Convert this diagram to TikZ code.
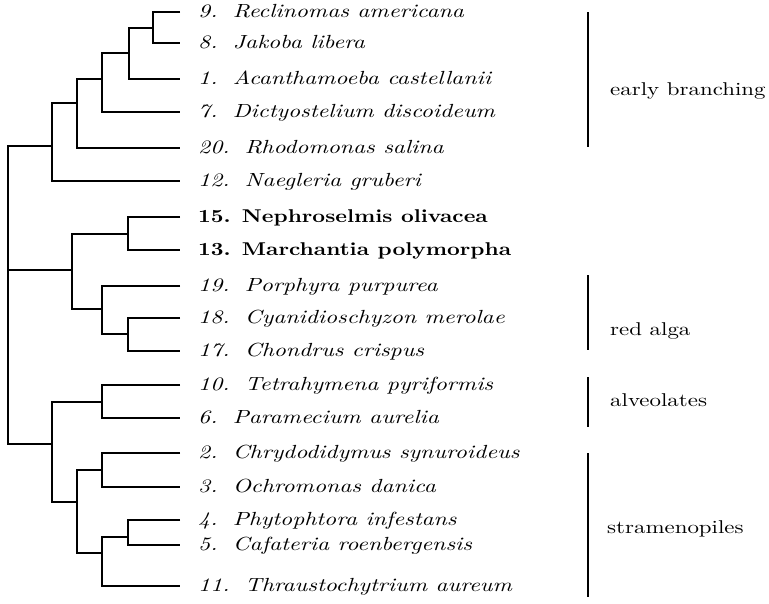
\documentclass[tikz,border=0pt]{standalone}
\usepackage{graphicx}
\tikzset{
  branch/.style={line width=1.7pt},
  groupbar/.style={line width=2pt},
  leaflab/.style={anchor=base west, inner sep=0pt, font=\fontsize{10}{12}\selectfont},
  grouplab/.style={anchor=base west, inner sep=0pt, font=\fontsize{10}{12}\selectfont},
}
\newcommand{\itlab}[2]{\scalebox{2.36}[1.9]{\itshape #1\hspace{0.65em}#2}}
\newcommand{\bflab}[2]{\scalebox{2.22}[1.85]{\bfseries #1\hspace{0.5em}#2}}
\newcommand{\grlab}[1]{\scalebox{2.29}[1.85]{#1}}
\begin{document}
\begin{tikzpicture}[x=1pt,y=-1pt]
\useasboundingbox (0,0) rectangle (769,603);
% leaf tips
\coordinate (t9)  at (180,12);
\coordinate (t8)  at (180,43);
\coordinate (t1)  at (180,79);
\coordinate (t7)  at (180,112);
\coordinate (t20) at (180,148);
\coordinate (t12) at (180,181);
\coordinate (t15) at (180,217);
\coordinate (t13) at (180,250);
\coordinate (t19) at (180,286);
\coordinate (t18) at (180,318);
\coordinate (t17) at (180,351);
\coordinate (t10) at (180,385);
\coordinate (t6)  at (180,418);
\coordinate (t2)  at (180,453);
\coordinate (t3)  at (180,487);
\coordinate (t4)  at (180,520);
\coordinate (t5)  at (180,545);
\coordinate (t11) at (180,586);
% internal nodes
\coordinate (n98)    at (153,28);
\coordinate (n981)   at (129,53);
\coordinate (n9817)  at (102,79);
\coordinate (n20)    at (77,103);
\coordinate (n12)    at (52,146);
\coordinate (n1513)  at (128,234);
\coordinate (n1817)  at (128,334);
\coordinate (nred)   at (102,309);
\coordinate (nplant) at (72,270);
\coordinate (nalv)   at (102,402);
\coordinate (n23)    at (102,470);
\coordinate (n45)    at (128,537);
\coordinate (n4511)  at (102,553);
\coordinate (nstram) at (77,502);
\coordinate (nchrom) at (52,444);
\coordinate (root)   at (8,270);
% branches
\draw[branch] (t9) -| (n98) |- (t8);
\draw[branch] (n98) -| (n981) |- (t1);
\draw[branch] (n981) -| (n9817) |- (t7);
\draw[branch] (n9817) -| (n20) |- (t20);
\draw[branch] (n20) -| (n12) |- (t12);
\draw[branch] (t15) -| (n1513) |- (t13);
\draw[branch] (t18) -| (n1817) |- (t17);
\draw[branch] (t19) -| (nred) |- (n1817);
\draw[branch] (n1513) -| (nplant) |- (nred);
\draw[branch] (t10) -| (nalv) |- (t6);
\draw[branch] (t2) -| (n23) |- (t3);
\draw[branch] (t4) -| (n45) |- (t5);
\draw[branch] (n45) -| (n4511) |- (t11);
\draw[branch] (n23) -| (nstram) |- (n4511);
\draw[branch] (nalv) -| (nchrom) |- (nstram);
\draw[branch] (n12) -| (root) |- (nchrom);
\draw[branch] (root) -- (nplant);
% leaf labels
\node[leaflab] (l9)  at (198,17)  {\itlab{9.}{Reclinomas americana}};
\node[leaflab] (l8)  at (198,48)  {\itlab{8.}{Jakoba libera}};
\node[leaflab] (l1)  at (198,84)  {\itlab{1.}{Acanthamoeba castellanii}};
\node[leaflab] (l7)  at (198,117) {\itlab{7.}{Dictyostelium discoideum}};
\node[leaflab] (l20) at (198,153) {\itlab{20.}{Rhodomonas salina}};
\node[leaflab] (l12) at (198,186) {\itlab{12.}{Naegleria gruberi}};
\node[leaflab] (l15) at (198,222) {\bflab{15.}{Nephroselmis olivacea}};
\node[leaflab] (l13) at (198,255) {\bflab{13.}{Marchantia polymorpha}};
\node[leaflab] (l19) at (198,291) {\itlab{19.}{Porphyra purpurea}};
\node[leaflab] (l18) at (198,323) {\itlab{18.}{Cyanidioschyzon merolae}};
\node[leaflab] (l17) at (198,356) {\itlab{17.}{Chondrus crispus}};
\node[leaflab] (l10) at (198,390) {\itlab{10.}{Tetrahymena pyriformis}};
\node[leaflab] (l6)  at (198,423) {\itlab{6.}{Paramecium aurelia}};
\node[leaflab] (l2)  at (198,458) {\itlab{2.}{Chrydodidymus synuroideus}};
\node[leaflab] (l3)  at (198,492) {\itlab{3.}{Ochromonas danica}};
\node[leaflab] (l4)  at (198,525) {\itlab{4.}{Phytophtora infestans}};
\node[leaflab] (l5)  at (198,550) {\itlab{5.}{Cafateria roenbergensis}};
\node[leaflab] (l11) at (198,591) {\itlab{11.}{Thraustochytrium aureum}};
% group bars
\coordinate (eb1) at (588,12);  \coordinate (eb2) at (588,147);
\coordinate (ra1) at (588,275); \coordinate (ra2) at (588,350);
\coordinate (al1) at (588,377); \coordinate (al2) at (588,427);
\coordinate (st1) at (588,453); \coordinate (st2) at (588,597);
\draw[groupbar] (eb1) -- (eb2);
\draw[groupbar] (ra1) -- (ra2);
\draw[groupbar] (al1) -- (al2);
\draw[groupbar] (st1) -- (st2);
% group labels
\node[grouplab] (geb) at (610,95)  {\grlab{early branching}};
\node[grouplab] (gra) at (610,335) {\grlab{red alga}};
\node[grouplab] (gal) at (610,406) {\grlab{alveolates}};
\node[grouplab] (gst) at (607,533) {\grlab{stramenopiles}};
\end{tikzpicture}
\end{document}
